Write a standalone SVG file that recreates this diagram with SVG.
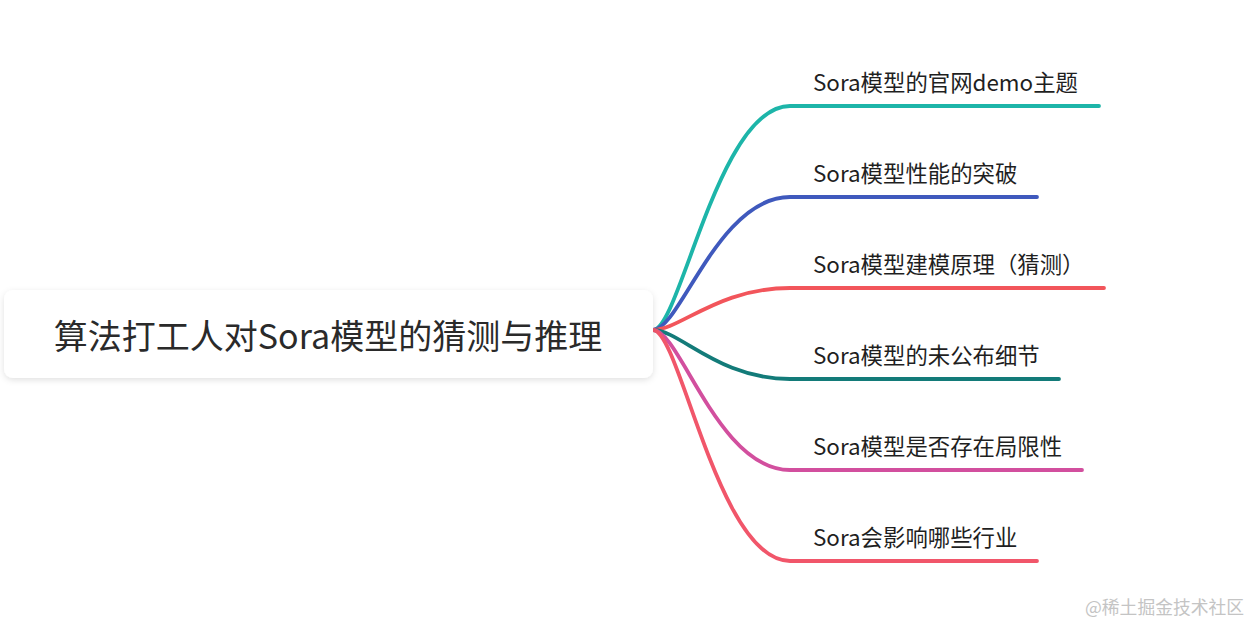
<svg xmlns="http://www.w3.org/2000/svg" width="1251" height="625" viewBox="0 0 1251 625">
<defs>
<filter id="sh" x="-5%" y="-20%" width="110%" height="150%">
<feDropShadow dx="0" dy="2" stdDeviation="3" flood-color="#000" flood-opacity="0.12"/>
</filter>
</defs>
<style>
.br{fill:none;stroke-width:3.8;stroke-linecap:round}
.lb{font-family:"Noto Sans CJK SC","Noto Sans",sans-serif;font-size:22.4px;fill:#1f1f1f}
.rt{font-family:"Noto Sans CJK SC","Noto Sans",sans-serif;font-size:34px;fill:#2a2a2a}
</style>
<rect width="1251" height="625" fill="#fff"/>
<g id="connectors">
<path class="br" stroke="#1db5a9" d="M653,330 C680,330 718,106 790,106 L1099,106"/>
<path class="br" stroke="#3f59bd" d="M653,330 C680,330 718,197 790,197 L1037,197"/>
<path class="br" stroke="#f2555b" d="M653,330 C680,330 718,288 790,288 L1104,288"/>
<path class="br" stroke="#137b79" d="M653,330 C680,330 718,379 790,379 L1059,379"/>
<path class="br" stroke="#d24f9e" d="M653,330 C680,330 718,470 790,470 L1082,470"/>
<path class="br" stroke="#f1566a" d="M653,330 C680,330 718,561 790,561 L1037,561"/>
</g>
<g id="root">
<rect x="4" y="290" width="649" height="88" rx="9" fill="#fff" filter="url(#sh)"/>
<text class="rt" x="328" y="349" text-anchor="middle">算法打工人对Sora模型的猜测与推理</text>
</g>
<g id="n1"><text class="lb" x="813" y="91">Sora模型的官网demo主题</text></g>
<g id="n2"><text class="lb" x="813" y="182">Sora模型性能的突破</text></g>
<g id="n3"><text class="lb" x="813" y="273">Sora模型建模原理（猜测）</text></g>
<g id="n4"><text class="lb" x="813" y="364">Sora模型的未公布细节</text></g>
<g id="n5"><text class="lb" x="813" y="455">Sora模型是否存在局限性</text></g>
<g id="n6"><text class="lb" x="813" y="546">Sora会影响哪些行业</text></g>
<text x="1085" y="614" font-family="'Noto Sans CJK SC',sans-serif" font-size="17.8" fill="#c4c4c4">@稀土掘金技术社区</text>
</svg>
